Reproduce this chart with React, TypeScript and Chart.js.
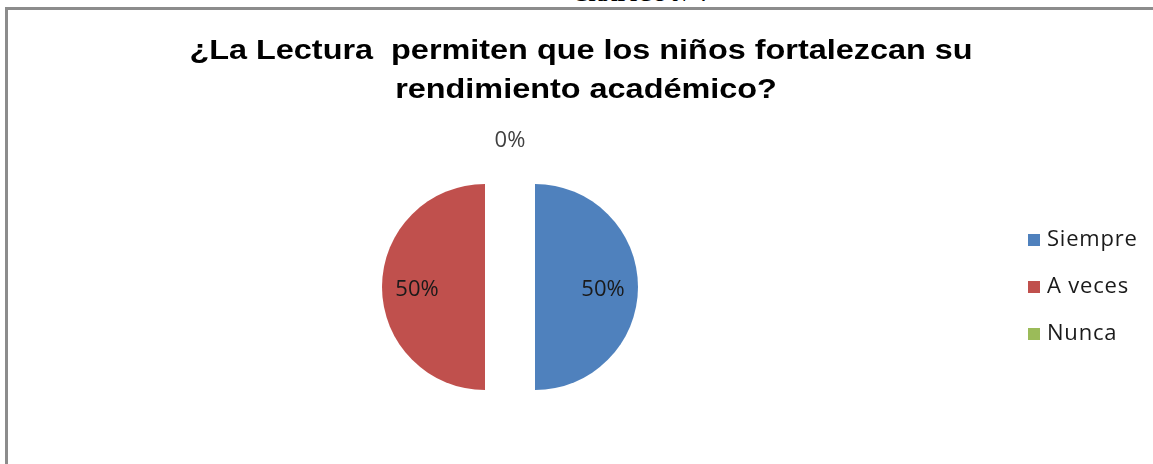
import React, { useEffect, useRef } from "react";
import { Chart, registerables } from "chart.js";

Chart.register(...registerables);

const categories = ["Siempre", "A veces", "Nunca"];
const percentages = [50, 50, 0];
const sliceColors = ["#4F81BD", "#C0504D", "#9BBB59"];
const titleLines = ["¿La Lectura  permiten que los niños fortalezcan su", "rendimiento académico?"];
const headerText = "GRÁFICO N° 7";

// distance each slice is pulled out from the centre (exploded pie)
const EXPLODE = 25;

const explodePlugin = {
  id: "explode",
  beforeDatasetDraw(chart: any, args: any) {
    const ctx = chart.ctx;
    const meta = args.meta;
    meta.data.forEach((arc: any) => {
      const p = arc.getProps(["startAngle", "endAngle"], true);
      const mid = (p.startAngle + p.endAngle) / 2;
      ctx.save();
      ctx.translate(Math.cos(mid) * EXPLODE, Math.sin(mid) * EXPLODE);
      arc.draw(ctx, chart.chartArea);
      ctx.restore();
    });
    return false;
  },
};

const overlayPlugin = {
  id: "overlay",
  afterDatasetsDraw(chart: any) {
    const ctx = chart.ctx;
    const meta = chart.getDatasetMeta(0);
    const ds = chart.data.datasets[0];
    // slice labels
    ctx.save();
    ctx.font = "22px 'Open Sans'";
    ctx.textAlign = "center";
    ctx.textBaseline = "middle";
    meta.data.forEach((arc: any, i: number) => {
      const p = arc.getProps(["x", "y", "startAngle", "endAngle", "outerRadius"], true);
      const mid = (p.startAngle + p.endAngle) / 2;
      const v = ds.data[i] as number;
      const R = p.outerRadius;
      const dist = v > 0 ? EXPLODE + R * 0.66 : R + 46;
      const x = p.x + Math.cos(mid) * dist;
      const y = p.y + Math.sin(mid) * dist + 3;
      ctx.fillStyle = v > 0 ? "#1a1a1a" : "#404040";
      ctx.fillText(v + "%", x, y);
    });
    ctx.restore();

    // legend
    ctx.save();
    ctx.font = "22px 'Open Sans'";
    (ctx as any).letterSpacing = "0.8px";
    ctx.textAlign = "left";
    ctx.textBaseline = "middle";
    chart.data.labels.forEach((lab: string, i: number) => {
      const cy = 240 + i * 47;
      ctx.fillStyle = (ds.backgroundColor as string[])[i];
      ctx.fillRect(1028, cy - 6, 12, 12);
      ctx.fillStyle = "#1a1a1a";
      ctx.fillText(lab, 1047, cy);
    });
    ctx.restore();

    // title
    ctx.save();
    ctx.font = "bold 27px 'Liberation Sans', Arial, sans-serif";
    ctx.textAlign = "center";
    ctx.textBaseline = "alphabetic";
    ctx.fillStyle = "#000";
    const centers = [581, 586];
    const baselines = [59, 98];
    titleLines.forEach((t, i) => {
      ctx.save();
      ctx.translate(centers[i], baselines[i]);
      ctx.scale(1.2, 1.05);
      ctx.fillText(t, 0, 0);
      ctx.restore();
    });
    ctx.restore();
  },
};

export default function App() {
  const ref = useRef<HTMLCanvasElement | null>(null);
  useEffect(() => {
    if (!ref.current) return;
    const chart = new Chart(ref.current, {
      type: "pie",
      data: {
        labels: categories,
        datasets: [
          {
            data: percentages,
            backgroundColor: sliceColors,
            borderWidth: 0,
            hoverBorderWidth: 0,
            offset: 0,
            hoverOffset: 0,
          },
        ],
      },
      options: {
        responsive: false,
        animation: false,
        radius: 103,
        layout: { padding: { left: 0, right: 133, top: 110, bottom: 0 } },
        plugins: {
          legend: { display: false },
          title: { display: false },
          tooltip: { enabled: false },
        },
        events: [],
      } as any,
      plugins: [explodePlugin, overlayPlugin],
    });
    return () => chart.destroy();
  }, []);

  return (
    <div
      style={{
        position: "absolute",
        left: 0,
        top: 0,
        width: 1153,
        height: 464,
        overflow: "hidden",
        background: "#fff",
      }}
    >
      <div
        style={{
          position: "absolute",
          left: 0,
          width: 1153,
          top: -16,
          textAlign: "center",
          paddingLeft: 130,
          boxSizing: "border-box",
          fontFamily: "'Liberation Serif', 'Times New Roman', serif",
          fontWeight: "bold",
          fontSize: 20,
          lineHeight: "20px",
          color: "#000",
        }}
      >
        {headerText}
      </div>
      <div
        style={{
          position: "absolute",
          left: 5,
          top: 7,
          right: -20,
          bottom: -20,
          borderTop: "3px solid #8c8c8c",
          borderLeft: "3px solid #8c8c8c",
        }}
      />
      <canvas
        ref={ref}
        width={1153}
        height={464}
        style={{ position: "absolute", left: 0, top: 0, width: 1153, height: 464 }}
      />
    </div>
  );
}
